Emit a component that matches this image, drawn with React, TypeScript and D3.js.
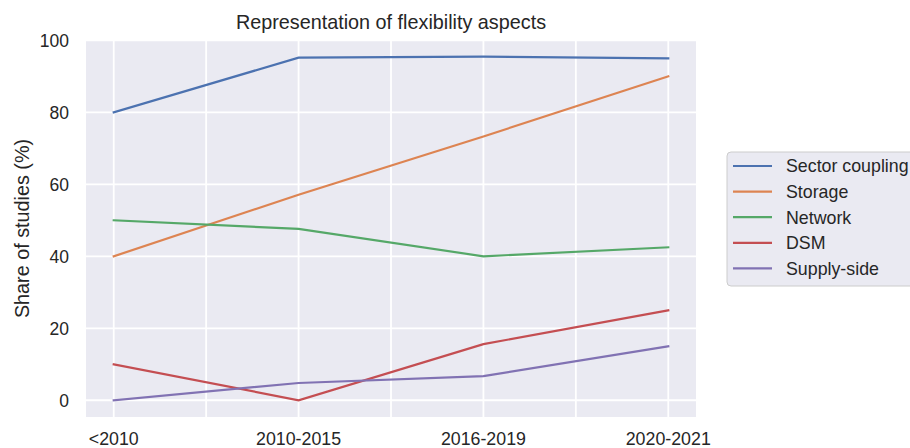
import React from "react";
import * as d3 from "d3";

const categories = ["<2010", "2010-2015", "2016-2019", "2020-2021"];
const seriesNames = ["Sector coupling", "Storage", "Network", "DSM", "Supply-side"];
const sectorCoupling = [80, 95.2, 95.5, 95.0];
const storage = [40, 57.1, 73.3, 90];
const network = [50, 47.6, 40, 42.5];
const dsm = [10, 0, 15.6, 25];
const supplySide = [0, 4.8, 6.7, 15];
const yTicks = [0, 20, 40, 60, 80, 100];
const colors = ["#4C72B0", "#DD8452", "#55A868", "#C44E52", "#8172B3"];

const W = 910, H = 448;
const left = 86, right = 696, top = 40, bottom = 417;
const FONT = "'Liberation Sans', Arial, sans-serif";

export default function App() {
  const x = d3.scaleLinear().domain([-0.15, 3.15]).range([left, right]);
  const y = d3.scaleLinear().domain([-4.65, 100.1]).range([bottom, top]);
  const allSeries = [sectorCoupling, storage, network, dsm, supplySide];
  const line = d3.line<number>().x((_, i) => x(i)).y((d) => y(d));
  const xGrid = d3.range(0, 3.01, 0.5);
  const legX = 727, legY = 152, rowH = 25.6;
  return (
    <svg width={W} height={H} style={{ position: "absolute", left: 0, top: 0, fontFamily: FONT }}>
      <rect x={0} y={0} width={W} height={H} fill="#fff" />
      <rect x={left} y={top} width={right - left} height={bottom - top} fill="#EAEAF2" />
      {xGrid.map((g) => (
        <line key={"xg" + g} x1={x(g)} x2={x(g)} y1={top} y2={bottom} stroke="#fff" strokeWidth={1.8} />
      ))}
      {yTicks.map((t) => (
        <line key={"yg" + t} x1={left} x2={right} y1={y(t)} y2={y(t)} stroke="#fff" strokeWidth={1.8} />
      ))}
      {allSeries.map((s, i) => (
        <path key={"s" + i} d={line(s) || ""} fill="none" stroke={colors[i]} strokeWidth={2.2} strokeLinecap="square" />
      ))}
      {yTicks.map((t) => (
        <text key={"yt" + t} x={69} y={y(t)} dy="0.36em" textAnchor="end" fontSize={17.5} fill="#262626">
          {t}
        </text>
      ))}
      {categories.map((c, i) => (
        <text key={"xt" + c} x={x(i)} y={444.5} textAnchor="middle" fontSize={17.8} fill="#262626">
          {c}
        </text>
      ))}
      <text x={(left + right) / 2} y={29} textAnchor="middle" fontSize={19.8} fill="#262626">
        Representation of flexibility aspects
      </text>
      <text transform={`translate(29,${(top + bottom) / 2}) rotate(-90)`} textAnchor="middle" fontSize={19.8} fill="#262626">
        Share of studies (%)
      </text>
      <rect x={legX} y={legY} width={200} height={134} rx={4} fill="#EAEAF2" stroke="#CCCCCC" strokeWidth={1} />
      {seriesNames.map((n, i) => (
        <g key={"lg" + n}>
          <line x1={733} x2={772} y1={legY + 14 + i * rowH} y2={legY + 14 + i * rowH} stroke={colors[i]} strokeWidth={2.2} />
          <text x={786} y={legY + 14 + i * rowH} dy="0.36em" fontSize={17.8} fill="#262626">
            {n}
          </text>
        </g>
      ))}
    </svg>
  );
}
